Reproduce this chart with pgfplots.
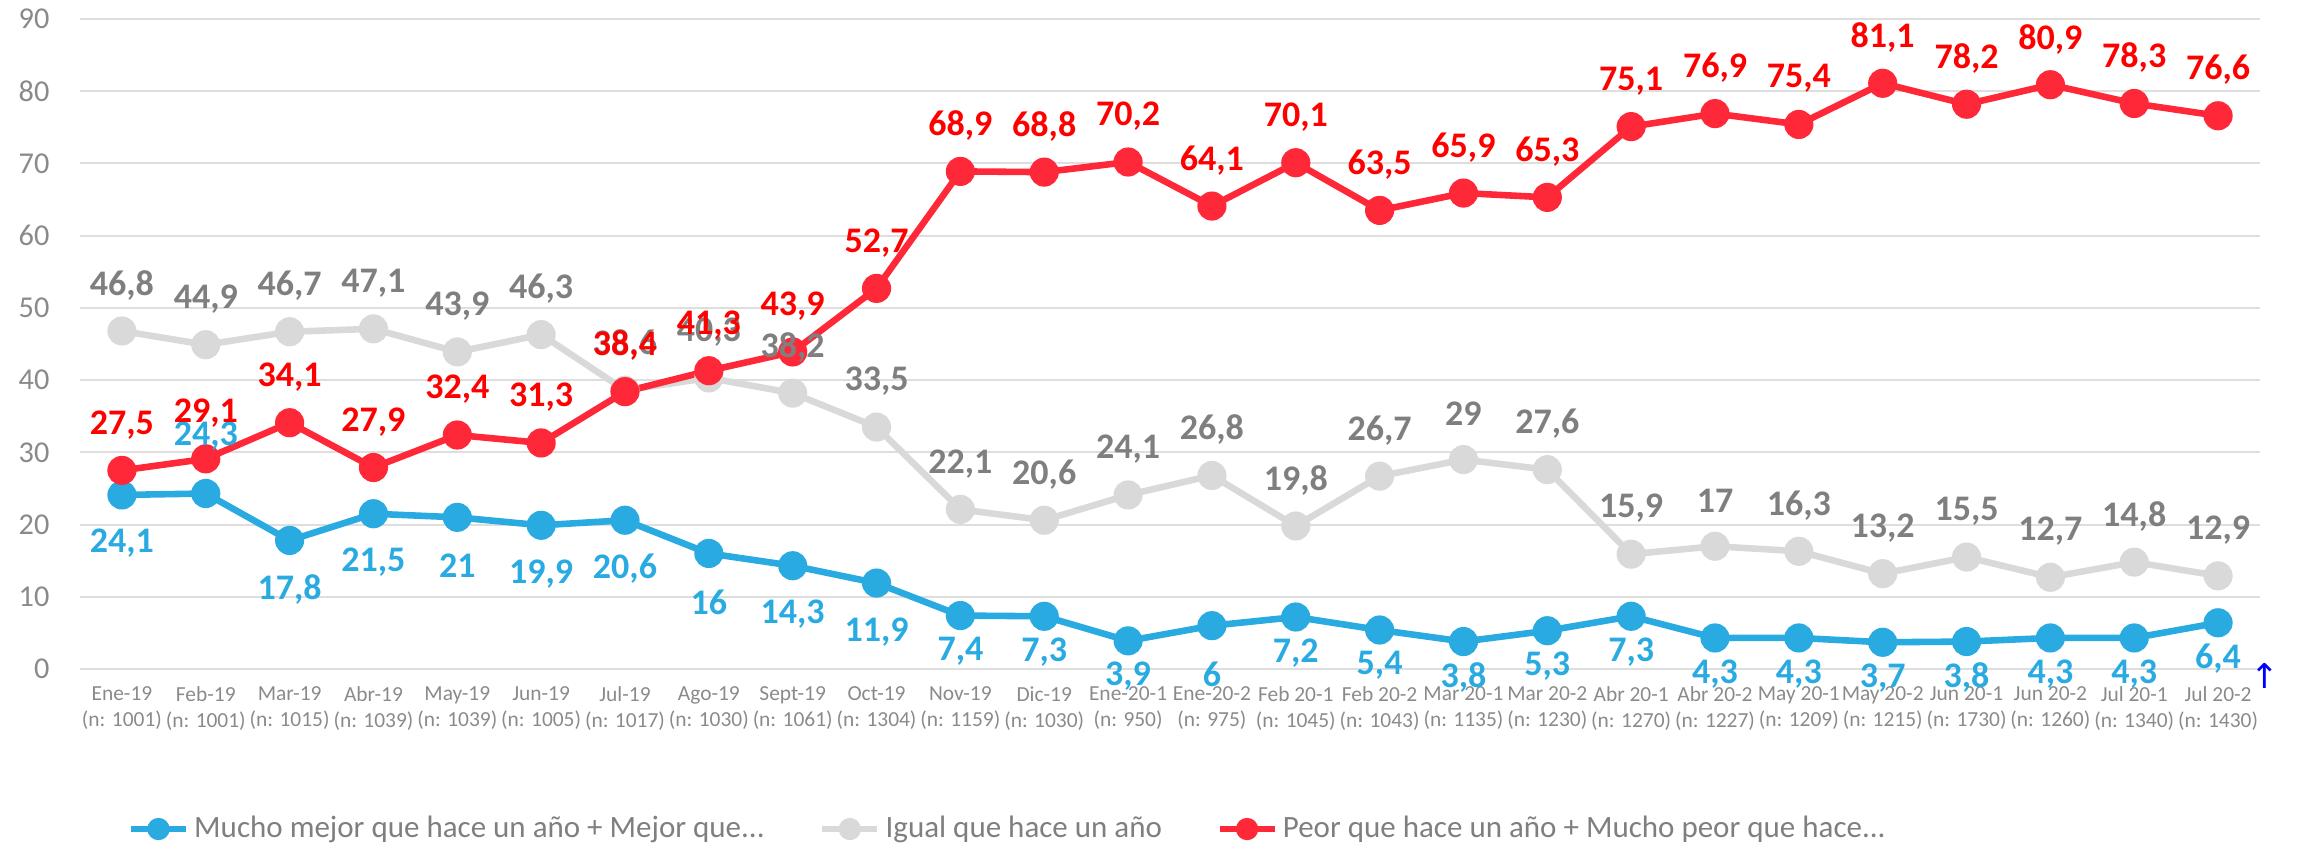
\documentclass[border=0pt]{standalone}
\usepackage{fontspec}
\setmainfont{Carlito}
\newfontfamily\djv{DejaVu Sans}
\usepackage{pgfplots}
\usepackage{pgfplotstable}
\pgfplotsset{compat=1.18}
\definecolor{cblue}{HTML}{29ABE2}
\definecolor{cgray}{HTML}{D9D9D9}
\definecolor{cgraylab}{HTML}{7F7F7F}
\definecolor{cred}{HTML}{FF2838}
\definecolor{credlab}{HTML}{FF0000}
\definecolor{gridc}{HTML}{DEDEDE}
\definecolor{tickc}{HTML}{8A8A8A}
\pgfplotsset{legend image code/.code={\draw[#1,mark=none] (0pt,0pt) -- (19.25pt,0pt); \draw[#1,mark size=3.6pt] plot coordinates {(9.63pt,0pt)};}}
\pgfplotsset{labfont/.style={every node near coord/.append style={anchor=center, inner sep=0pt, font=\fontsize{12.6}{14}\selectfont\bfseries}}}

\pgfplotstableread{
x y lab
0 24.1 24,1
1 24.3 24,3
2 17.8 17,8
3 21.5 21,5
4 21 21
5 19.9 19,9
6 20.6 20,6
7 16 16
8 14.3 14,3
9 11.9 11,9
10 7.4 7,4
11 7.3 7,3
12 3.9 3,9
13 6 6
14 7.2 7,2
15 5.4 5,4
16 3.8 3,8
17 5.3 5,3
18 7.3 7,3
19 4.3 4,3
20 4.3 4,3
21 3.7 3,7
22 3.8 3,8
23 4.3 4,3
24 4.3 4,3
25 6.4 6,4
}\bluetab

\pgfplotstableread{
x y lab
0 46.8 46,8
1 44.9 44,9
2 46.7 46,7
3 47.1 47,1
4 43.9 43,9
5 46.3 46,3
6 38.6 38,6
7 40.3 40,3
8 38.2 38,2
9 33.5 33,5
10 22.1 22,1
11 20.6 20,6
12 24.1 24,1
13 26.8 26,8
14 19.8 19,8
15 26.7 26,7
16 29 29
17 27.6 27,6
18 15.9 15,9
19 17 17
20 16.3 16,3
21 13.2 13,2
22 15.5 15,5
23 12.7 12,7
24 14.8 14,8
25 12.9 12,9
}\graytab

\pgfplotstableread{
x y lab
0 27.5 27,5
1 29.1 29,1
2 34.1 34,1
3 27.9 27,9
4 32.4 32,4
5 31.3 31,3
6 38.4 38,4
7 41.3 41,3
8 43.9 43,9
9 52.7 52,7
10 68.9 68,9
11 68.8 68,8
12 70.2 70,2
13 64.1 64,1
14 70.1 70,1
15 63.5 63,5
16 65.9 65,9
17 65.3 65,3
18 75.1 75,1
19 76.9 76,9
20 75.4 75,4
21 81.1 81,1
22 78.2 78,2
23 80.9 80,9
24 78.3 78,3
25 76.6 76,6
}\redtab

\begin{document}
\begin{tikzpicture}
\path[use as bounding box] (0,0) rectangle (805.7pt,295.4pt);
\begin{axis}[
  at={(28pt,61.25pt)}, anchor=south west,
  scale only axis, width=763pt, height=227.5pt,
  xmin=-0.5, xmax=25.5, ymin=0, ymax=90,
  clip=false,
  axis line style={draw=none},
  major tick length=0pt,
  ymajorgrids, grid style={color=gridc, line width=0.7pt},
  ytick={0,10,...,90},
  /pgf/number format/assume math mode=true,
  yticklabel style={font=\fontsize{10.6}{12}\selectfont, text=tickc, anchor=east, inner sep=0pt, xshift=-10.5pt},
  xtick={0,...,25},
  xticklabels={{Ene-19\\(n: 1001)},{Feb-19\\(n: 1001)},{Mar-19\\(n: 1015)},{Abr-19\\(n: 1039)},{May-19\\(n: 1039)},{Jun-19\\(n: 1005)},{Jul-19\\(n: 1017)},{Ago-19\\(n: 1030)},{Sept-19\\(n: 1061)},{Oct-19\\(n: 1304)},{Nov-19\\(n: 1159)},{Dic-19\\(n: 1030)},{Ene-20-1\\(n: 950)},{Ene-20-2\\(n: 975)},{Feb 20-1\\(n: 1045)},{Feb 20-2\\(n: 1043)},{Mar 20-1\\(n: 1135)},{Mar 20-2\\(n: 1230)},{Abr 20-1\\(n: 1270)},{Abr 20-2\\(n: 1227)},{May 20-1\\(n: 1209)},{May 20-2\\(n: 1215)},{Jun 20-1\\(n: 1730)},{Jun 20-2\\(n: 1260)},{Jul 20-1\\(n: 1340)},{Jul 20-2\\(n: 1430)}},
  xticklabel style={font=\fontsize{7.5}{9.1}\selectfont, text=tickc, align=center, anchor=north, inner sep=0pt, yshift=-6pt},
  legend style={at={(axis description cs:0.0216,-0.2462)}, anchor=west, draw=none, fill=none, inner sep=0pt,
    font=\fontsize{10.85}{13}\selectfont, text=cgraylab,
    /tikz/every odd column/.append style={column sep=1.75pt},
    /tikz/every even column/.append style={column sep=19pt},
    nodes={inner sep=0pt}},
  legend columns=3,
  legend cell align=left,
]
\addplot[cblue, line width=2.3pt, mark=*, mark size=4.8pt, mark options={line width=0.6pt}] table[x=x,y=y] {\bluetab};
\addlegendentry{Mucho mejor que hace un año + Mejor que...}
\addplot[cgray, line width=2.3pt, mark=*, mark size=4.8pt, mark options={line width=0.6pt}] table[x=x,y=y] {\graytab};
\addlegendentry{Igual que hace un año}
\addplot[cred, line width=2.3pt, mark=*, mark size=4.8pt, mark options={line width=0.6pt}] table[x=x,y=y] {\redtab};
\addlegendentry{Peor que hace un año + Mucho peor que hace...}

% blue labels (below): 2019 part, 2020 part, specials
\addplot[draw=none, mark=none, forget plot, nodes near coords, point meta=explicit symbolic, labfont,
  every node near coord/.append style={yshift=-17pt, text=cblue},
  skip coords between index={1}{2}, skip coords between index={10}{26}]
  table[x=x,y=y,meta=lab] {\bluetab};
\addplot[draw=none, mark=none, forget plot, nodes near coords, point meta=explicit symbolic, labfont,
  every node near coord/.append style={yshift=-12.5pt, text=cblue},
  skip coords between index={0}{10}, skip coords between index={13}{14}]
  table[x=x,y=y,meta=lab] {\bluetab};
\addplot[draw=none, mark=none, forget plot, nodes near coords, point meta=explicit symbolic, labfont,
  every node near coord/.append style={yshift=20pt, text=cblue}]
  coordinates {(1,24.3) [24,3]};
\addplot[draw=none, mark=none, forget plot, nodes near coords, point meta=explicit symbolic, labfont,
  every node near coord/.append style={yshift=-17pt, text=cblue}]
  coordinates {(13,6) [6]};
% gray labels
\addplot[draw=none, mark=none, forget plot, nodes near coords, point meta=explicit symbolic, labfont,
  every node near coord/.append style={yshift=16pt, text=cgraylab}]
  table[x=x,y=y,meta=lab] {\graytab};
% red labels
\addplot[draw=none, mark=none, forget plot, nodes near coords, point meta=explicit symbolic, labfont,
  every node near coord/.append style={yshift=16pt, text=credlab}]
  table[x=x,y=y,meta=lab] {\redtab};
\node[text=blue, font=\djv\fontsize{12}{13}\selectfont, inner sep=0pt] at (axis cs:25.56,-1.0) {↑};
\end{axis}
\end{tikzpicture}
\end{document}
